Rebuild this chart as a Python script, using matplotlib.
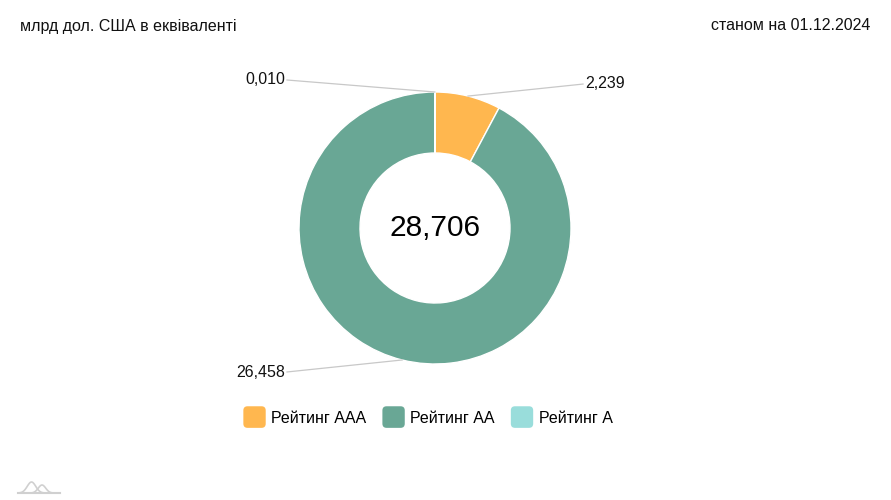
import numpy as np
import matplotlib.pyplot as plt
from matplotlib.patches import Patch, FancyBboxPatch
from matplotlib.legend_handler import HandlerPatch

plt.rcParams['font.family'] = ['Liberation Sans', 'DejaVu Sans']

# data
categories = ['Рейтинг ААА', 'Рейтинг АА', 'Рейтинг А']
values = [2.239, 26.458, 0.010]
value_labels = ['2,239', '26,458', '0,010']
total_label = '28,706'
colors = ['#FFB74F', '#69A795', '#99DDDB']
unit_text = 'млрд дол. США в еквіваленті'
date_text = 'станом на 01.12.2024'

W, H = 891, 500
fig = plt.figure(figsize=(W / 100, H / 100), dpi=100)
ax = fig.add_axes([0, 0, 1, 1])

cx, cy = 435, 272
r_out, r_in = 136, 75

wedges, _ = ax.pie(values, colors=colors, startangle=90, counterclock=False,
                   center=(cx, cy), radius=r_out,
                   wedgeprops=dict(width=r_out - r_in, edgecolor='white', linewidth=1))
ax.set_xlim(0, W)
ax.set_ylim(0, H)
ax.set_aspect('equal')
ax.axis('off')

# leader lines + labels
for w, lab in zip(wedges, value_labels):
    ang = np.deg2rad((w.theta1 + w.theta2) / 2)
    px, py = cx + r_out * np.cos(ang), cy + r_out * np.sin(ang)
    side = 1 if np.cos(ang) > 0.001 else -1
    up = np.sign(np.sin(ang))
    ex = cx + side * 148
    ey = py + 12 * up
    ax.plot([px, ex], [py, ey], color='#c8c8c8', lw=0.9)
    ax.text(ex + side * 2, ey + up, lab, ha='left' if side > 0 else 'right',
            va='center', fontsize=11.5, color='#111111')

ax.text(cx, cy, total_label, ha='center', va='center', fontsize=21.5, color='black')

fig.text(20 / W, 1 - 26 / H, unit_text, ha='left', va='center', fontsize=11.5, color='#111111')
fig.text(870 / W, 1 - 26 / H, date_text, ha='right', va='center', fontsize=11.5, color='#111111')


class RoundHandler(HandlerPatch):
    def create_artists(self, legend, orig_handle, xdescent, ydescent, width, height, fontsize, trans):
        p = FancyBboxPatch((-xdescent, -ydescent - 3), width, height + 6,
                           boxstyle='round,pad=0,rounding_size=3',
                           fc=orig_handle.get_facecolor(), ec='none', transform=trans)
        return [p]


handles = [Patch(facecolor=c) for c in colors]
fig.legend(handles, categories, loc='center', bbox_to_anchor=(428 / W, 1 - 418 / H),
           ncol=3, frameon=False, fontsize=11.5, handlelength=1.4, handleheight=0.9,
           handletextpad=0.35, columnspacing=1.0,
           handler_map={Patch: RoundHandler()})

# small logo in corner
lx = np.linspace(0, 1, 60)
ax.plot(18 + 42 * lx, 7 + 0 * lx, color='#d0d0d0', lw=1.5)
ax.plot(18 + 30 * lx, 7 + 11 * np.exp(-((lx - 0.45) / 0.2) ** 2), color='#d0d0d0', lw=1.2)
ax.plot(30 + 24 * lx, 7 + 8 * np.exp(-((lx - 0.5) / 0.22) ** 2), color='#d0d0d0', lw=1.2)

fig.savefig('out.png', dpi=100)
